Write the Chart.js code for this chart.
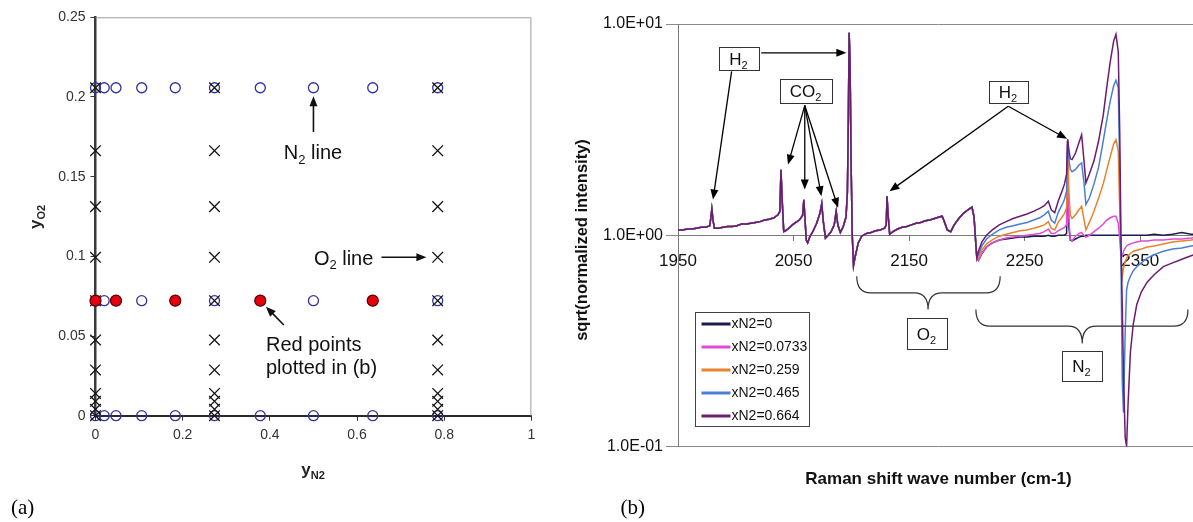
<!DOCTYPE html>
<html>
<head>
<meta charset="utf-8">
<script src="https://cdn.jsdelivr.net/npm/chart.js@4.4.0/dist/chart.umd.min.js"></script>
<style>
  html, body { margin: 0; padding: 0; width: 1193px; height: 522px; overflow: hidden; background: #fff; }
  #panel-a { position: absolute; left: 0; top: 0; }
  #panel-b { position: absolute; left: 560px; top: 0; }
</style>
</head>
<body>
<canvas id="panel-a" width="560" height="522"></canvas>
<canvas id="panel-b" width="645" height="522"></canvas>
<script>
// ---------- panel (a): measured compositions ----------
const n2LineX = [0, 0.02, 0.047, 0.106, 0.183, 0.273, 0.378, 0.5, 0.636, 0.785];
const n2LineRows = [0, 0.0722, 0.2058];
const o2LineCols = [0, 0.273, 0.785];
const o2LineY = [0, 0.004, 0.009, 0.014, 0.0287, 0.0475, 0.0722, 0.0994, 0.1312, 0.1663, 0.2058];
const redPointsX = [0, 0.047, 0.183, 0.378, 0.636];
const redPointsY = 0.0722;
const aTicksX = [0, 0.2, 0.4, 0.6, 0.8, 1];
const aTicksY = [0, 0.05, 0.1, 0.15, 0.2, 0.25];

// ---------- panel (b): spectra ----------
// below 2209 cm-1 all five spectra sit on top of each other
const commonWn = [1950, 1954, 1958, 1962, 1966, 1970, 1974, 1977.5, 1978.5, 1979.3, 1980.3, 1981.5,
  1985, 1989, 1993, 1997, 2001, 2005, 2009, 2013, 2017, 2021, 2025, 2029, 2033,
  2036.5, 2038.2, 2039.1, 2040.2, 2041.5, 2043, 2046, 2049, 2052, 2055,
  2057.8, 2058.9, 2059.8, 2061, 2062.2, 2064, 2067, 2070, 2072.8, 2074.4,
  2075.6, 2077.6, 2080, 2082.5, 2085.2, 2086.9, 2088.3, 2090.5, 2093, 2095.4,
  2096.6, 2097.4, 2098.1, 2098.9, 2099.8, 2100.8, 2101.9, 2103.5, 2106, 2109,
  2113, 2117, 2121, 2125, 2128.8, 2130.2, 2130.9, 2131.8, 2133.2, 2136,
  2140, 2144, 2148, 2152, 2156, 2160, 2164, 2168, 2172, 2176,
  2178.6, 2180.5, 2183, 2186, 2189, 2193, 2197, 2201, 2204.4, 2206.2, 2207.5, 2208.6];
const commonVal = [1.06, 1.06, 1.07, 1.07, 1.08, 1.09, 1.09, 1.11, 1.22, 1.33, 1.18, 1.08,
  1.08, 1.09, 1.10, 1.10, 1.11, 1.13, 1.13, 1.14, 1.15, 1.16, 1.18, 1.19, 1.21,
  1.25, 1.30, 2.04, 1.45, 1.04, 1.05, 1.08, 1.12, 1.15, 1.18,
  1.24, 1.47, 1.22, 0.95, 0.92, 0.98, 1.05, 1.14, 1.27, 1.41,
  1.18, 0.97, 1.0, 1.04, 1.12, 1.30, 1.12, 1.03, 1.10, 1.22,
  1.6, 3.5, 9.1, 6.5, 2.2, 1.0, 0.72, 0.80, 0.92, 0.99,
  1.02, 1.03, 1.05, 1.06, 1.08, 1.12, 1.53, 1.25, 1.01, 1.04,
  1.07, 1.09, 1.10, 1.12, 1.14, 1.15, 1.17, 1.18, 1.20, 1.22,
  1.23, 1.16, 1.06, 1.04, 1.12, 1.20, 1.27, 1.32, 1.36, 1.22, 0.95, 0.78];

const tailWn = [2210, 2213, 2217, 2222, 2228, 2234, 2240, 2246, 2252, 2258,
  2263, 2267, 2270.5, 2273, 2276, 2279, 2282, 2284.5, 2286.3, 2287.2,
  2288.2, 2289.5, 2291, 2294, 2297, 2299.3, 2301.2, 2303, 2306, 2310,
  2314, 2318, 2321, 2324, 2327, 2329, 2331, 2332.3, 2333.3, 2334.5,
  2335.5, 2337, 2338.2, 2339.5, 2341.5, 2344, 2347, 2351, 2356, 2362,
  2370, 2378, 2386, 2394, 2400];
const tailN2_0 = [0.76, 0.82, 0.88, 0.92, 0.95, 0.96, 0.97, 0.98, 0.98, 0.99,
  0.99, 0.99, 1.0, 0.99, 0.99, 1.0, 1.0, 1.0, 1.02, 2.7,
  1.1, 0.95, 0.94, 0.96, 0.98, 0.99, 0.99, 1.0, 1.0, 1.0,
  1.0, 1.0, 1.0, 1.0, 1.0, 1.0, 1.0, 1.0, 1.0, 1.0,
  1.0, 1.0, 1.0, 1.0, 1.0, 1.0, 1.0, 1.0, 1.0, 1.01,
  1.0, 1.01, 1.03, 1.01, 1.01];
const tailN2_0733 = [0.76, 0.82, 0.88, 0.92, 0.95, 0.97, 0.98, 0.99, 1.0, 1.01,
  1.02, 1.04, 1.07, 1.02, 1.02, 1.05, 1.07, 1.09, 1.12, 2.8,
  1.2, 0.96, 0.94, 0.99, 1.02, 1.03, 1.0, 0.98, 1.0, 1.04,
  1.08, 1.13, 1.18, 1.21, 1.23, 1.23, 1.14, 0.95, 0.82, 0.80,
  0.84, 0.87, 0.89, 0.90, 0.91, 0.92, 0.93, 0.94, 0.94, 0.95,
  0.95, 0.96, 0.96, 0.97, 0.98];
const tailN2_259 = [0.78, 0.85, 0.91, 0.95, 0.99, 1.01, 1.03, 1.05, 1.06, 1.08,
  1.10, 1.12, 1.16, 1.08, 1.06, 1.15, 1.21, 1.27, 1.35, 2.8,
  1.6, 1.25, 1.2, 1.25, 1.32, 1.37, 1.2, 1.06, 1.15, 1.3,
  1.5, 1.75, 2.04, 2.35, 2.7, 2.83, 2.5, 1.3, 0.75, 0.64,
  0.70, 0.75, 0.78, 0.80, 0.82, 0.84, 0.85, 0.86, 0.88, 0.89,
  0.91, 0.93, 0.94, 0.95, 0.96];
const tailN2_465 = [0.81, 0.89, 0.96, 1.01, 1.06, 1.09, 1.11, 1.13, 1.15, 1.18,
  1.21, 1.25, 1.30, 1.18, 1.14, 1.28, 1.38, 1.48, 1.62, 2.8,
  2.3, 2.05, 2.0, 2.05, 2.15, 2.2, 1.8, 1.40, 1.5, 1.75,
  2.1, 2.8, 3.5, 4.3, 5.1, 5.42, 5.0, 2.0, 0.8, 0.2,
  0.145, 0.35, 0.55, 0.60, 0.64, 0.68, 0.71, 0.74, 0.78, 0.81,
  0.84, 0.86, 0.87, 0.89, 0.90];
const tailN2_664 = [0.84, 0.93, 1.0, 1.06, 1.12, 1.16, 1.20, 1.23, 1.26, 1.30,
  1.34, 1.38, 1.45, 1.32, 1.28, 1.45, 1.60, 1.75, 1.95, 2.85,
  2.55, 2.3, 2.28, 2.45, 2.75, 2.99, 2.3, 1.77, 1.95, 2.25,
  2.8, 3.7, 5.0, 6.6, 8.3, 8.94, 7.4, 3.0, 1.0, 0.45,
  0.22, 0.11, 0.1, 0.16, 0.28, 0.38, 0.47, 0.54, 0.60, 0.65,
  0.71, 0.74, 0.77, 0.80, 0.82];

const seriesLabels = ['xN2=0', 'xN2=0.0733', 'xN2=0.259', 'xN2=0.465', 'xN2=0.664'];
const seriesTails = [tailN2_0, tailN2_0733, tailN2_259, tailN2_465, tailN2_664];
const bTicksX = [1950, 2050, 2150, 2250, 2350];
const bTicksY = [0.1, 1, 10];

const lineColors = ['#1b1b52', '#e14ad6', '#e8822c', '#4b7fd4', '#6c1c70'];
const SANS = "'Liberation Sans', Arial, sans-serif";
const SERIF = "'Liberation Serif', 'Times New Roman', serif";

function font(size, bold) { return (bold ? 'bold ' : '') + size + 'px ' + SANS; }

// parts: [[text, isSubscript], ...]
function subText(ctx, parts, x, y, size, align, bold) {
  const sub = Math.round(size * 0.65);
  const widths = parts.map(([t, s]) => { ctx.font = font(s ? sub : size, bold); return ctx.measureText(t).width; });
  const total = widths.reduce((a, b) => a + b, 0);
  let cx = align === 'center' ? x - total / 2 : x;
  ctx.textAlign = 'left';
  ctx.textBaseline = 'alphabetic';
  parts.forEach(([t, s], i) => {
    ctx.font = font(s ? sub : size, bold);
    ctx.fillText(t, cx, s ? y + size * 0.22 : y);
    cx += widths[i];
  });
}

function arrow(ctx, x1, y1, x2, y2, head, half) {
  const a = Math.atan2(y2 - y1, x2 - x1);
  ctx.beginPath();
  ctx.moveTo(x1, y1);
  ctx.lineTo(x2 - Math.cos(a) * head * 0.8, y2 - Math.sin(a) * head * 0.8);
  ctx.stroke();
  ctx.beginPath();
  ctx.moveTo(x2, y2);
  ctx.lineTo(x2 - Math.cos(a) * head + Math.sin(a) * half, y2 - Math.sin(a) * head - Math.cos(a) * half);
  ctx.lineTo(x2 - Math.cos(a) * head - Math.sin(a) * half, y2 - Math.sin(a) * head + Math.cos(a) * half);
  ctx.closePath();
  ctx.fill();
}

function boxLabel(ctx, xa, ya, xb, yb, parts, size) {
  const l = Math.round(Math.min(xa, xb)) + 0.5, r = Math.round(Math.max(xa, xb)) + 0.5;
  const t = Math.round(Math.min(ya, yb)) + 0.5, b = Math.round(Math.max(ya, yb)) + 0.5;
  ctx.fillStyle = '#fff';
  ctx.fillRect(l, t, r - l, b - t);
  ctx.strokeStyle = '#333';
  ctx.lineWidth = 1;
  ctx.strokeRect(l, t, r - l, b - t);
  ctx.fillStyle = '#111';
  subText(ctx, parts, (l + r) / 2 - 1, (t + b) / 2 + size * 0.34, size, 'center', false);
}

function brace(ctx, xa, xb, yEnd, yMid, xTip, yTip) {
  const r = 14;
  ctx.beginPath();
  ctx.moveTo(xa, yEnd);
  ctx.quadraticCurveTo(xa, yMid, xa + r, yMid);
  ctx.lineTo(xTip - r, yMid);
  ctx.quadraticCurveTo(xTip, yMid, xTip, yTip);
  ctx.quadraticCurveTo(xTip, yMid, xTip + r, yMid);
  ctx.lineTo(xb - r, yMid);
  ctx.quadraticCurveTo(xb, yMid, xb, yEnd);
  ctx.stroke();
}

function sci(v) {
  const e = Math.round(Math.log10(v));
  return '1.0E' + (e < 0 ? '-' : '+') + String(Math.abs(e)).padStart(2, '0');
}

// ---------- chart (a) ----------
const panelA = {
  id: 'panelA',
  beforeDatasetsDraw(chart) {
    const { ctx, chartArea: ca } = chart;
    ctx.save();
    ctx.strokeStyle = '#9c9c9c';
    ctx.lineWidth = 1;
    ctx.beginPath();
    ctx.moveTo(ca.left, ca.top + 0.5);
    ctx.lineTo(ca.right - 0.5, ca.top + 0.5);
    ctx.lineTo(ca.right - 0.5, ca.bottom);
    ctx.stroke();
    ctx.restore();
  },
  afterDraw(chart) {
    const { ctx } = chart;
    const X = v => chart.scales.x.getPixelForValue(v);
    const Y = v => chart.scales.y.getPixelForValue(v);
    ctx.save();
    ctx.fillStyle = '#111';
    ctx.strokeStyle = '#111';
    ctx.lineWidth = 1.6;

    subText(ctx, [['N', false], ['2', true], [' line', false]], X(0.432), Y(0.1609), 20, 'left', false);
    arrow(ctx, X(0.5), Y(0.178), X(0.5), Y(0.2005), 10, 4);

    subText(ctx, [['O', false], ['2', true], [' line', false]], X(0.501), Y(0.0948), 20, 'left', false);
    arrow(ctx, X(0.656), Y(0.0994), X(0.759), Y(0.0994), 10, 4);

    ctx.font = font(20, false);
    ctx.textAlign = 'left';
    ctx.fillText('Red points', X(0.391), Y(0.0408));
    ctx.fillText('plotted in (b)', X(0.391), Y(0.0262));
    arrow(ctx, X(0.432), Y(0.0569), X(0.391), Y(0.0684), 10, 4);

    // axis titles
    ctx.fillStyle = '#222';
    subText(ctx, [['y', false], ['N2', true]], 313, 475, 17, 'center', true);
    ctx.translate(41, 217);
    ctx.rotate(-Math.PI / 2);
    subText(ctx, [['y', false], ['O2', true]], 0, 0, 17, 'center', true);
    ctx.setTransform(1, 0, 0, 1, 0, 0);

    ctx.fillStyle = '#000';
    ctx.font = '21px ' + SERIF;
    ctx.textAlign = 'left';
    ctx.fillText('(a)', 11, 514);
    ctx.restore();
  }
};

const n2Points = n2LineRows.flatMap(y => n2LineX.map(x => ({ x, y })));
const o2Points = o2LineCols.flatMap(x => o2LineY.map(y => ({ x, y })));
const redPoints = redPointsX.map(x => ({ x, y: redPointsY }));

new Chart(document.getElementById('panel-a'), {
  type: 'scatter',
  data: {
    datasets: [
      { label: 'red', data: redPoints, pointStyle: 'circle', pointRadius: 5.5,
        backgroundColor: '#e6000d', borderColor: '#5a0000', borderWidth: 1.2, clip: false },
      { label: 'O2 line', data: o2Points, pointStyle: 'crossRot', pointRadius: 7.5,
        borderColor: '#151515', borderWidth: 1.3, clip: false },
      { label: 'N2 line', data: n2Points, pointStyle: 'circle', pointRadius: 5,
        backgroundColor: 'rgba(0,0,0,0)', borderColor: '#3232a2', borderWidth: 1.3, clip: false }
    ]
  },
  options: {
    responsive: false,
    animation: false,
    devicePixelRatio: 1,
    layout: { padding: { left: 0, top: 17.3, right: 28.6, bottom: 66.3 } },
    plugins: { legend: { display: false }, tooltip: { enabled: false } },
    scales: {
      x: {
        type: 'linear', min: 0, max: 1,
        afterBuildTicks: s => { s.ticks = aTicksX.map(v => ({ value: v })); },
        afterFit: s => { s.height = 40; },
        ticks: { font: { family: SANS, size: 14 }, color: '#333', padding: 6, maxRotation: 0,
          callback: v => String(+v.toFixed(2)) },
        grid: { drawOnChartArea: false, drawTicks: true, tickLength: 5, color: '#333' },
        border: { color: '#2a2a2a', width: 2 }
      },
      y: {
        type: 'linear', min: 0, max: 0.25,
        afterBuildTicks: s => { s.ticks = aTicksY.map(v => ({ value: v })); },
        afterFit: s => { s.width = 95.5; },
        ticks: { font: { family: SANS, size: 14 }, color: '#333', padding: 5,
          callback: v => String(+v.toFixed(2)) },
        grid: { drawOnChartArea: false, drawTicks: true, tickLength: 5, color: '#333' },
        border: { color: '#3a3a3a', width: 2.5 }
      }
    }
  },
  plugins: [panelA]
});

// ---------- chart (b) ----------
const panelB = {
  id: 'panelB',
  afterDraw(chart) {
    const { ctx } = chart;
    const X = v => chart.scales.x.getPixelForValue(v);
    const Y = v => chart.scales.y.getPixelForValue(v);
    ctx.save();
    ctx.fillStyle = '#000';
    ctx.strokeStyle = '#000';
    ctx.lineWidth = 1.3;

    // arrows
    arrow(ctx, X(2022), Y(7.3), X(2095.7), Y(7.3), 10, 4);
    arrow(ctx, X(1996.4), Y(5.97), X(1980.3), Y(1.476), 10, 4);
    [[2045.2, 2.16], [2059.7, 1.645], [2074.1, 1.53], [2088.6, 1.348]].forEach(([w, v]) =>
      arrow(ctx, X(2059.7), Y(4.11), X(w), Y(v), 10, 4));
    [[2133, 1.615], [2286.7, 2.86]].forEach(([w, v]) =>
      arrow(ctx, X(2235.8), Y(4.08), X(w), Y(v), 10, 4));

    // braces
    ctx.strokeStyle = '#333';
    ctx.lineWidth = 1.2;
    brace(ctx, X(2104.7), X(2228.8), Y(0.64), Y(0.534), X(2166.4), Y(0.445));
    brace(ctx, X(2207.8), X(2391.3), Y(0.445), Y(0.371), X(2299.8), Y(0.307));

    // boxed labels
    boxLabel(ctx, X(1985.5), Y(7.78), X(2020.1), Y(6.08), [['H', false], ['2', true]], 17);
    boxLabel(ctx, X(2038.1), Y(5.52), X(2083.7), Y(4.25), [['CO', false], ['2', true]], 17);
    boxLabel(ctx, X(2219), Y(5.36), X(2253.3), Y(4.23), [['H', false], ['2', true]], 17);
    boxLabel(ctx, X(2148.4), Y(0.4065), X(2182.7), Y(0.29), [['O', false], ['2', true]], 17);
    boxLabel(ctx, X(2282.2), Y(0.2825), X(2316.8), Y(0.2037), [['N', false], ['2', true]], 17);

    // legend
    const l = Math.round(X(1964.7)) + 0.5, r = Math.round(X(2063.2)) + 0.5;
    const t = Math.round(Y(0.4355)) + 0.5, b = Math.round(Y(0.1244)) + 0.5;
    ctx.fillStyle = '#fff';
    ctx.fillRect(l, t, r - l, b - t);
    ctx.strokeStyle = '#444';
    ctx.lineWidth = 1;
    ctx.strokeRect(l, t, r - l, b - t);
    ctx.font = font(14, false);
    ctx.textBaseline = 'middle';
    ctx.textAlign = 'left';
    seriesLabels.forEach((lab, i) => {
      const yy = t + 11.5 + i * 23;
      ctx.strokeStyle = lineColors[i];
      ctx.lineWidth = 3;
      ctx.beginPath();
      ctx.moveTo(l + 6, yy);
      ctx.lineTo(l + 35, yy);
      ctx.stroke();
      ctx.fillStyle = '#111';
      ctx.fillText(lab, l + 36, yy);
    });

    // axis titles
    ctx.fillStyle = '#111';
    ctx.textBaseline = 'alphabetic';
    ctx.textAlign = 'center';
    ctx.font = font(17, true);
    ctx.fillText('Raman shift wave number (cm-1)', 378.5, 484);
    ctx.translate(27, 240);
    ctx.rotate(-Math.PI / 2);
    ctx.font = font(16.5, true);
    ctx.fillText('sqrt(normalized intensity)', 0, 0);
    ctx.setTransform(1, 0, 0, 1, 0, 0);

    ctx.fillStyle = '#000';
    ctx.font = '21px ' + SERIF;
    ctx.textAlign = 'left';
    ctx.fillText('(b)', 60.6, 514);
    ctx.restore();
  }
};

const bDatasets = seriesLabels.map((label, i) => ({
  label,
  data: commonWn.map((x, k) => ({ x, y: commonVal[k] }))
    .concat(tailWn.map((x, k) => ({ x, y: seriesTails[i][k] }))),
  borderColor: lineColors[i],
  borderWidth: 1.5,
  pointRadius: 0,
  tension: 0,
  order: seriesLabels.length - 1 - i
}));

new Chart(document.getElementById('panel-b'), {
  type: 'line',
  data: { datasets: bDatasets },
  options: {
    responsive: false,
    animation: false,
    devicePixelRatio: 1,
    layout: { padding: { left: 0, top: 24, right: 7, bottom: 75.5 } },
    plugins: { legend: { display: false }, tooltip: { enabled: false } },
    scales: {
      x: {
        type: 'linear', min: 1950, max: 2400,
        position: { y: 1 },
        afterBuildTicks: s => { s.ticks = bTicksX.map(v => ({ value: v })); },
        ticks: { font: { family: SANS, size: 17 }, color: '#111', padding: 11, maxRotation: 0, autoSkip: false,
          callback: v => String(v) },
        grid: { drawOnChartArea: false, drawTicks: true, tickLength: 5, color: '#777' },
        border: { color: '#7a7a7a', width: 1 }
      },
      y: {
        type: 'logarithmic', min: 0.1, max: 10,
        afterBuildTicks: s => { s.ticks = bTicksY.map(v => ({ value: v })); },
        afterFit: s => { s.width = 118; },
        ticks: { font: { family: SANS, size: 16 }, color: '#111', padding: 3, callback: v => sci(v) },
        grid: { drawOnChartArea: true, drawTicks: true, tickLength: 12, color: '#8a8a8a' },
        border: { color: '#7a7a7a', width: 1 }
      }
    }
  },
  plugins: [panelB]
});
</script>
</body>
</html>
